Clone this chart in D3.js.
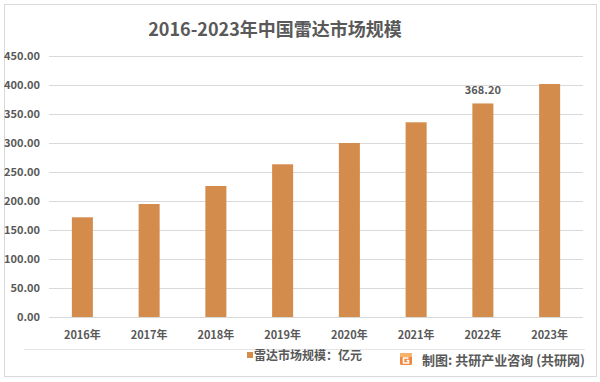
<!DOCTYPE html>
<html>
<head>
<meta charset="utf-8">
<script src="https://cdn.jsdelivr.net/npm/d3@7"></script>
<style>
  body { margin: 0; background: #fff; }
  svg text { font-family: "Noto Sans CJK SC", "Noto Sans", sans-serif; }
</style>
</head>
<body>
<svg id="chart" width="600" height="382"></svg>
<script>
const years = ["2016年", "2017年", "2018年", "2019年", "2020年", "2021年", "2022年", "2023年"];
const marketSize = [171.9, 194.8, 225.9, 263.3, 300.0, 335.7, 368.2, 401.7];
const labelledIndex = [6];
const yTicks = [0, 50, 100, 150, 200, 250, 300, 350, 400, 450];
const title = "2016-2023年中国雷达市场规模";
const legendLabel = "雷达市场规模：亿元";
const sourceLabel = "制图: 共研产业咨询 (共研网)";

const svg = d3.select("#chart");
const textColor = "#595959";
const barColor = "#D48C4D";

// outer frame
svg.append("rect")
  .attr("x", 4.5).attr("y", 4.5)
  .attr("width", 592).attr("height", 372)
  .attr("fill", "none")
  .attr("stroke", "#D9D9D9");

svg.append("text")
  .attr("x", 275)
  .attr("y", 36)
  .attr("text-anchor", "middle")
  .attr("fill", textColor)
  .attr("font-size", 18)
  .attr("font-weight", "bold")
  .text(title);

const x = d3.scaleBand().domain(years).range([49, 583]).paddingInner(0.685).paddingOuter(0.3425);
const y = d3.scaleLinear().domain([0, 450]).range([317, 56]);

// gridlines
svg.append("g")
  .selectAll("line")
  .data(yTicks)
  .enter()
  .append("line")
  .attr("x1", 49).attr("x2", 583)
  .attr("y1", (d) => Math.round(y(d)) + 0.5)
  .attr("y2", (d) => Math.round(y(d)) + 0.5)
  .attr("stroke", "#D9D9D9");

svg.append("g")
  .selectAll("text")
  .data(yTicks)
  .enter()
  .append("text")
  .attr("x", 40)
  .attr("y", (d) => y(d))
  .attr("dy", "0.36em")
  .attr("text-anchor", "end")
  .attr("fill", textColor)
  .attr("font-size", 11)
  .attr("font-weight", "bold")
  .text((d) => d.toFixed(2));

svg.append("g")
  .selectAll("rect")
  .data(marketSize)
  .enter()
  .append("rect")
  .attr("x", (d, i) => x(years[i]))
  .attr("width", x.bandwidth())
  .attr("y", (d) => y(d))
  .attr("height", (d) => y(0) - y(d))
  .attr("fill", barColor);

svg.append("g")
  .selectAll("text")
  .data(labelledIndex)
  .enter()
  .append("text")
  .attr("x", (i) => x(years[i]) + x.bandwidth() / 2)
  .attr("y", (i) => y(marketSize[i]) - 9)
  .attr("text-anchor", "middle")
  .attr("fill", textColor)
  .attr("font-size", 11)
  .attr("font-weight", "bold")
  .text((i) => marketSize[i].toFixed(2));

svg.append("g")
  .selectAll("text")
  .data(years)
  .enter()
  .append("text")
  .attr("x", (d) => x(d) + x.bandwidth() / 2)
  .attr("y", 339)
  .attr("text-anchor", "middle")
  .attr("fill", textColor)
  .attr("font-size", 11)
  .attr("font-weight", "bold")
  .text((d) => d);

// separator under axis labels
svg.append("line")
  .attr("x1", 24).attr("x2", 585)
  .attr("y1", 349.5).attr("y2", 349.5)
  .attr("stroke", "#E6E6E6");

// legend
svg.append("rect")
  .attr("x", 247).attr("y", 352)
  .attr("width", 6).attr("height", 6)
  .attr("fill", barColor);
svg.append("text")
  .attr("x", 254).attr("y", 359.5)
  .attr("fill", textColor)
  .attr("font-size", 12)
  .attr("font-weight", "bold")
  .text(legendLabel);

// source mark
const logo = svg.append("g").attr("transform", "translate(400, 353)");
logo.append("rect").attr("width", 12).attr("height", 12).attr("rx", 1.5).attr("fill", "#F0883C");
logo.append("rect").attr("width", 12).attr("height", 4).attr("fill", "#F6B26B");
logo.append("path")
  .attr("d", "M8.5 5 H3.5 V10 H8.5 V7.5 H6.5")
  .attr("fill", "none")
  .attr("stroke", "#fff")
  .attr("stroke-width", 1.6);

svg.append("text")
  .attr("x", 422).attr("y", 365)
  .attr("fill", textColor)
  .attr("font-size", 13)
  .attr("font-weight", "bold")
  .text(sourceLabel);
</script>
</body>
</html>
